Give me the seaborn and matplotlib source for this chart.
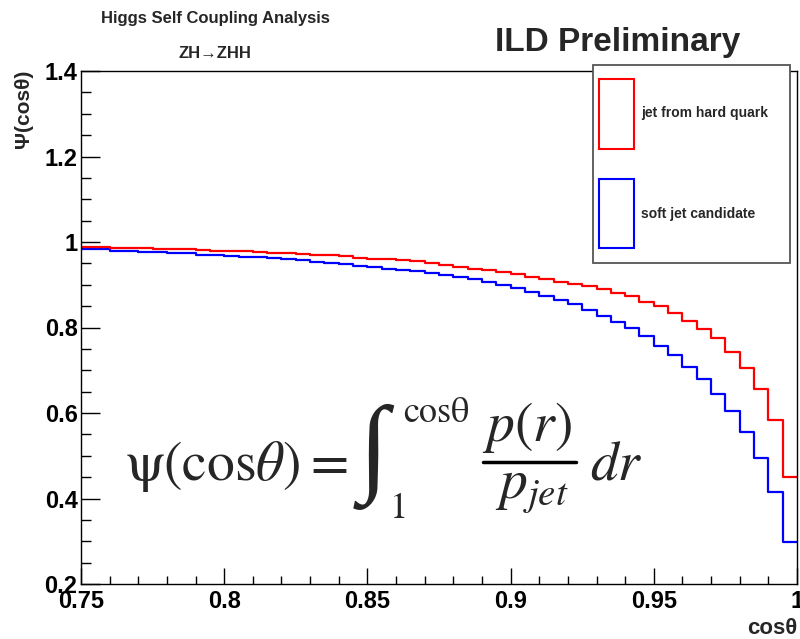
import numpy as np
import pandas as pd
import matplotlib
matplotlib.use("Agg")
import matplotlib.pyplot as plt
import seaborn as sns
from matplotlib.patches import Rectangle
from matplotlib.lines import Line2D
from matplotlib.ticker import MultipleLocator, FuncFormatter

# ---------------- data ----------------
bin_edges = [round(0.75 + 0.005 * i, 4) for i in range(51)]

hard_quark = [0.988, 0.988, 0.986, 0.986, 0.985, 0.984, 0.983, 0.983, 0.981, 0.980,
              0.980, 0.978, 0.977, 0.975, 0.975, 0.971, 0.969, 0.969, 0.967, 0.963,
              0.961, 0.961, 0.959, 0.956, 0.950, 0.946, 0.942, 0.937, 0.935, 0.929,
              0.924, 0.919, 0.913, 0.906, 0.901, 0.897, 0.890, 0.880, 0.874, 0.859,
              0.850, 0.833, 0.816, 0.797, 0.775, 0.743, 0.705, 0.655, 0.584, 0.451]

soft_jet = [0.984, 0.984, 0.980, 0.980, 0.977, 0.977, 0.974, 0.974, 0.970, 0.970,
            0.967, 0.966, 0.965, 0.963, 0.960, 0.957, 0.954, 0.951, 0.948, 0.945,
            0.941, 0.938, 0.934, 0.931, 0.927, 0.923, 0.919, 0.913, 0.906, 0.900,
            0.892, 0.884, 0.874, 0.864, 0.855, 0.840, 0.827, 0.814, 0.798, 0.779,
            0.757, 0.735, 0.708, 0.680, 0.644, 0.605, 0.555, 0.494, 0.415, 0.298]

series_labels = ["jet from hard quark", "soft jet candidate"]
series_colors = ["#ff0000", "#0000ff"]

xticks = [0.75, 0.8, 0.85, 0.9, 0.95, 1.0]
yticks = [0.2, 0.4, 0.6, 0.8, 1.0, 1.2, 1.4]

# ---------------- style ----------------
sns.set_theme(style="ticks")
plt.rcParams['font.family'] = ['Liberation Sans', 'DejaVu Sans']
plt.rcParams['mathtext.fontset'] = 'stix'

edges = np.array(bin_edges)
centers = (edges[:-1] + edges[1:]) / 2
df = pd.DataFrame({
    "x": np.concatenate([centers, centers]),
    "w": hard_quark + soft_jet,
    "series": [series_labels[0]] * len(hard_quark) + [series_labels[1]] * len(soft_jet),
})

W, H = 800, 639
fig = plt.figure(figsize=(W / 100, H / 100), dpi=100)
fig.patch.set_facecolor("white")
ax = fig.add_axes([81 / W, 1 - 584 / H, (797 - 81) / W, (584 - 71) / H])
ax.set_facecolor("white")

sns.histplot(data=df, x="x", weights="w", hue="series", bins=bin_edges,
             element="step", fill=False, palette=dict(zip(series_labels, series_colors)),
             hue_order=series_labels, ax=ax, legend=False, linewidth=1.6)

ax.set_xlim(0.75, 1.0)
ax.set_ylim(0.2, 1.4)
ax.set_xlabel("")
ax.set_ylabel("")

fmt = FuncFormatter(lambda v, p: "%g" % round(v, 3))
ax.set_xticks(xticks)
ax.set_yticks(yticks)
ax.xaxis.set_major_formatter(fmt)
ax.yaxis.set_major_formatter(fmt)
ax.xaxis.set_minor_locator(MultipleLocator(0.01))
ax.yaxis.set_minor_locator(MultipleLocator(0.05))

ax.tick_params(axis="both", which="both", direction="in", top=False, right=False,
               colors="black", width=1)
ax.tick_params(axis="x", which="major", length=11.5, pad=4, labelsize=17)
ax.tick_params(axis="x", which="minor", length=5.8)
ax.tick_params(axis="y", which="major", length=13.7, pad=2.5, labelsize=17)
ax.tick_params(axis="y", which="minor", length=7)
for lbl in ax.get_xticklabels() + ax.get_yticklabels():
    lbl.set_fontweight("bold")

for s in ax.spines.values():
    s.set_visible(True)
    s.set_color("black")
    s.set_linewidth(1.0)

# ---------------- texts ----------------
def fx(px):
    return px / W


def fy(py):
    return 1 - py / H


fig.text(fx(215), fy(18), "Higgs Self Coupling Analysis", ha="center", va="center",
         fontsize=12, fontweight="bold")
fig.text(fx(215), fy(53), "ZH\u2192ZHH", ha="center", va="center",
         fontsize=12, fontweight="bold")
fig.text(fx(618), fy(42), "ILD Preliminary", ha="center", va="center",
         fontsize=24, fontweight="bold")

fig.text(fx(23), fy(70), "\u03a8(cos\u03b8)", rotation=90, ha="center", va="top",
         fontsize=15, fontweight="bold")
fig.text(fx(797), fy(628), "cos\u03b8", ha="right", va="center",
         fontsize=16, fontweight="bold")

# ---------------- formula (composed from pieces) ----------------
F = 40
serif = "STIXGeneral"
fig.text(fx(125), fy(480), "\u03c8(cos$\\theta$)", ha="left", va="baseline",
         fontsize=F, family=serif)
fig.text(fx(329), fy(480), "=", ha="center", va="baseline", fontsize=F, family=serif)
fig.text(fx(374), fy(457), "\u222b", ha="center", va="center", fontsize=78,
         family=["Liberation Serif", "DejaVu Serif"])
fig.text(fx(403), fy(422), "cos\u03b8", ha="left", va="baseline", fontsize=26, family=serif)
fig.text(fx(390), fy(518), "1", ha="left", va="baseline", fontsize=26, family=serif)
fig.text(fx(527), fy(441), r"$p(r)$", ha="center", va="baseline", fontsize=F)
fig.add_artist(Line2D([fx(483), fx(576)], [fy(462), fy(462)], transform=fig.transFigure,
                      color="black", lw=2.5))
fig.text(fx(532), fy(498), r"$p_{jet}$", ha="center", va="baseline", fontsize=F)
fig.text(fx(590), fy(480), r"$dr$", ha="left", va="baseline", fontsize=F)

# ---------------- legend box ----------------
fig.add_artist(Rectangle((fx(592.7), fy(263)), (790 - 592.7) / W, (263 - 65) / H,
                         transform=fig.transFigure, facecolor="white",
                         edgecolor="#555555", lw=1.3, zorder=5))
legend_rows = [(79, 149, 113), (179, 248, 214)]
for (top, bot, ymid), lab, col in zip(legend_rows, series_labels, series_colors):
    fig.add_artist(Rectangle((fx(599), fy(bot)), 35 / W, (bot - top) / H,
                             transform=fig.transFigure, fill=False,
                             edgecolor=col, lw=1.5, zorder=6))
    fig.text(fx(641), fy(ymid), lab, ha="left", va="center",
             fontsize=10, fontweight="bold", zorder=7)

fig.savefig("out.png", dpi=100)
